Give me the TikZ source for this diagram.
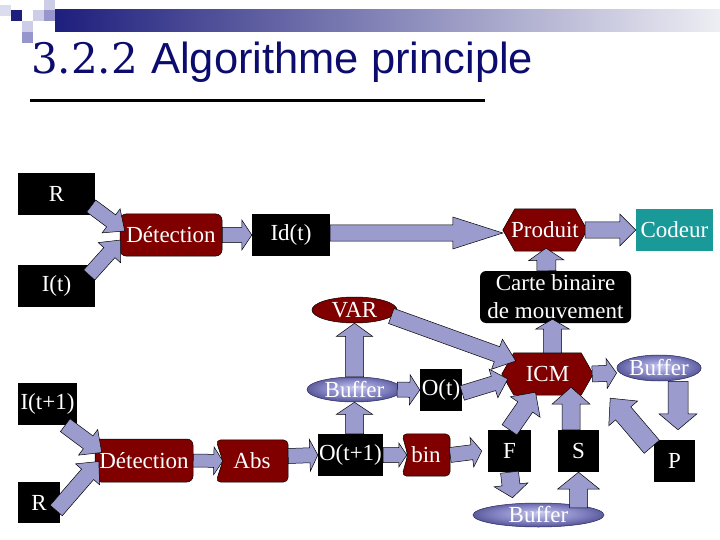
\documentclass[tikz,border=0pt]{standalone}
\usepackage{fontspec}
\setmainfont{Liberation Serif}
\newfontfamily\titlesans{Liberation Sans}
\newfontfamily\titlenum{DejaVu Serif}
\usetikzlibrary{calc,shapes.geometric}
\pgfdeclarelayer{background}
\pgfsetlayers{background,main}
\definecolor{arrowfill}{RGB}{155,155,205}
\definecolor{darkred}{RGB}{128,0,0}
\definecolor{tealbox}{RGB}{26,153,153}
\definecolor{navy}{RGB}{30,30,125}
\definecolor{titleblue}{RGB}{12,12,110}
\definecolor{buflight}{RGB}{195,195,238}
\definecolor{bufmid}{RGB}{125,125,190}
\definecolor{bufdark}{RGB}{48,48,112}
\definecolor{bufline}{RGB}{40,40,100}
\definecolor{sqlight}{RGB}{205,205,232}
\definecolor{sqmid}{RGB}{150,150,205}
\definecolor{barend}{RGB}{238,238,244}
\pgfdeclareradialshading{bufshade}{\pgfpoint{0bp}{4bp}}{color(0bp)=(buflight); color(18bp)=(bufmid); color(34bp)=(bufdark); color(50bp)=(bufdark)}
\tikzset{
  lbl/.style={text=white, font=\fontsize{23}{28}\selectfont, inner sep=0pt, align=center},
  bbox/.style={lbl, rectangle, fill=black},
  rbox/.style={lbl, rectangle, rounded corners=6pt, fill=darkred, draw=black, line width=0.5pt},
  shapebox/.style={lbl, rectangle},
  bufnode/.style={lbl, ellipse, shading=bufshade, draw=bufline, line width=0.5pt},
  blockarrow/.style={fill=arrowfill, draw=black, line width=0.5pt, line join=miter},
  hexfill/.style={fill=darkred, draw=black, line width=0.5pt},
}
% block arrow: from, to, head length, shaft half width, head half width
\newcommand\barrow[5]{%
  \coordinate (bkA) at (#1);
  \coordinate (bkB) at (#2);
  \coordinate (bkN) at ($(bkB)!#3pt!(bkA)$);
  \draw[blockarrow] ($(bkA)!#4pt!90:(bkB)$) -- ($(bkN)!#4pt!90:(bkB)$) -- ($(bkN)!#5pt!90:(bkB)$) -- (bkB) -- ($(bkN)!#5pt!-90:(bkB)$) -- ($(bkN)!#4pt!-90:(bkB)$) -- ($(bkA)!#4pt!-90:(bkB)$) -- cycle;}
\newcommand\hexshape[2]{% node, inset
  \filldraw[hexfill] (#1.west) -- ($(#1.north west)+(#2,0)$) -- ($(#1.north east)+(-#2,0)$) -- (#1.east) -- ($(#1.south east)+(-#2,0)$) -- ($(#1.south west)+(#2,0)$) -- cycle;}
\newcommand\notchshape[2]{% node, notch depth
  \filldraw[hexfill, rounded corners=5pt] ($(#1.west)+(#2,0)$) -- (#1.north west) -- (#1.north east) -- (#1.south east) -- (#1.south west) -- cycle;}
\begin{document}
\begin{tikzpicture}[x=1pt,y=-1pt]
\useasboundingbox (0,0) rectangle (720,540);
% header decoration
\fill[sqlight!70!white] (0,5) rectangle (11,16);
\fill[navy] (11,10) rectangle (22,21);
\fill[sqlight] (22,21) rectangle (33,32);
\fill[sqmid] (22,32) rectangle (33,43);
\fill[sqlight] (33,10) rectangle (44,21);
\fill[sqlight] (44,0) rectangle (55,10);
\fill[sqmid] (44,10) rectangle (55,21);
\shade[left color=navy, right color=barend] (55,10) rectangle (720,32);
% title
\node[anchor=base west, text=titleblue, font=\titlenum\fontsize{42}{42}\selectfont, inner sep=0pt] (tnum) at (31,74) {3.2.2};
\node[anchor=base west, text=titleblue, font=\titlesans\fontsize{43.5}{43.5}\selectfont, inner sep=0pt] (ttext) at (151,74) {Algorithme principle};
\draw[line width=3pt] (30,101) -- (485,101);

% nodes
\node[bbox, minimum width=77pt, minimum height=42pt] (R1) at (56.5,194) {R};
\node[bbox, minimum width=77pt, minimum height=42pt] (It) at (56.5,286) {I(t)};
\node[rbox, minimum width=102pt, minimum height=42pt] (Det1) at (171,235) {Détection};
\node[bbox, minimum width=78pt, minimum height=42pt] (Idt) at (291,235) {Id(t)};
\node[shapebox, minimum width=84pt, minimum height=42pt] (Prod) at (545,230) {Produit};
\node[lbl, rectangle, fill=tealbox, minimum width=77pt, minimum height=42pt] (Codeur) at (674.5,230) {Codeur};
\node[bbox, rounded corners=6pt, minimum width=151pt, minimum height=52pt] (Carte) at (555.5,297) {Carte binaire\\de mouvement};
\node[lbl, ellipse, fill=darkred, draw=black, line width=0.5pt, minimum width=85pt, minimum height=26pt] (VAR) at (354.5,310) {VAR};
\node[bufnode, minimum width=95pt, minimum height=25pt] (Buf1) at (354.5,389.5) {Buffer};
\node[bbox, minimum width=42pt, minimum height=42pt] (Ot) at (441,390) {O(t)};
\node[shapebox, minimum width=91pt, minimum height=42pt] (ICM) at (547.5,374) {ICM};
\node[bufnode, minimum width=82pt, minimum height=26pt] (Buf2) at (659,368) {Buffer};
\node[bbox, minimum width=59pt, minimum height=42pt] (It1) at (47.5,404) {I(t+1)};
\node[rbox, minimum width=98pt, minimum height=43pt] (Det2) at (144,460.5) {Détection};
\node[bbox, minimum width=42pt, minimum height=41pt] (R2) at (39,502.5) {R};
\node[shapebox, minimum width=72pt, minimum height=42pt] (Abs) at (252,461) {Abs};
\node[bbox, minimum width=65pt, minimum height=42pt] (Ot1) at (350.5,455) {O(t+1)};
\node[shapebox, minimum width=48pt, minimum height=42pt] (bin) at (426,455) {bin};
\node[bbox, minimum width=43pt, minimum height=42pt] (F) at (509.5,451) {F};
\node[bbox, minimum width=41pt, minimum height=42pt] (S) at (578.5,451) {S};
\node[bbox, minimum width=41pt, minimum height=42pt] (P) at (674.5,461) {P};
\node[bufnode, minimum width=131pt, minimum height=24pt] (Buf3) at (538.5,515) {Buffer};

\begin{pgfonlayer}{background}
\hexshape{Prod}{12}
\hexshape{ICM}{12}
\notchshape{Abs}{7}
\notchshape{bin}{6}
\end{pgfonlayer}

% connectors
\barrow{$(R1.east)+(-4,12)$}{$(Det1.west)+(5,-4)$}{17}{7.5}{15}
\barrow{$(It.east)+(-6,-11)$}{$(Det1.west)+(1,5)$}{17}{7.5}{15}
\barrow{Det1.east}{Idt.west}{10}{7.5}{15}
\barrow{$(Idt.east)+(0,-2)$}{$(Prod.west)+(0,3)$}{50}{8}{16}
\barrow{$(Prod.east)+(-2,0)$}{Codeur.west}{16}{8}{16}
\barrow{$(Carte.north)+(-9,0)$}{$(Prod.south)+(1,-3)$}{12}{9.5}{17.5}
\barrow{$(ICM.north)+(5,0)$}{$(Carte.south)+(-3,-4)$}{10}{9}{17}
\barrow{$(VAR.east)+(-6,6)$}{$(ICM.west)+(14,-13)$}{20}{8}{16}
\barrow{Buf1.north}{VAR.south}{13}{9}{18}
\barrow{$(Ot1.north)+(4,0)$}{Buf1.south}{12}{9}{18}
\barrow{$(Buf1.east)+(-5,0)$}{Ot.west}{10}{7.5}{15}
\barrow{$(Ot.east)+(0,3)$}{$(ICM.west)+(6,5)$}{15}{7.5}{15}
\barrow{$(ICM.east)+(-1,0)$}{$(Buf2.west)+(0,5)$}{10}{8}{15}
\barrow{$(Buf2.south)+(19,0)$}{$(P.north)+(3.5,-10)$}{16}{10}{19}
\barrow{$(P.north west)+(-2,7)$}{$(ICM.south east)+(17,3)$}{20}{10}{19}
\barrow{Ot1.east}{$(bin.west)+(5,0)$}{8}{7.5}{12}
\barrow{bin.east}{$(F.west)+(-6,0)$}{10}{7.5}{15}
\barrow{F.north}{$(ICM.south)+(-12,-3)$}{18}{9}{18}
\barrow{$(S.north)+(-7.5,0)$}{$(ICM.south)+(23.5,-8)$}{17}{9}{19}
\barrow{F.south}{$(Buf3.north)+(-26,-5)$}{13}{9}{17}
\barrow{$(Buf3.north)+(40,5)$}{S.south}{17}{9}{21}
\barrow{Det2.east}{$(Abs.west)+(7,0)$}{9}{6.5}{14}
\barrow{$(Abs.east)+(0,-5)$}{Ot1.west}{8}{7.5}{16}
\barrow{$(It1.south east)+(-12,0)$}{$(Det2.west)+(7,-8)$}{17}{8}{16}
\barrow{$(R2.east)+(-4,8)$}{$(Det2.west)+(4,1)$}{17}{8}{16}
\end{tikzpicture}
\end{document}
